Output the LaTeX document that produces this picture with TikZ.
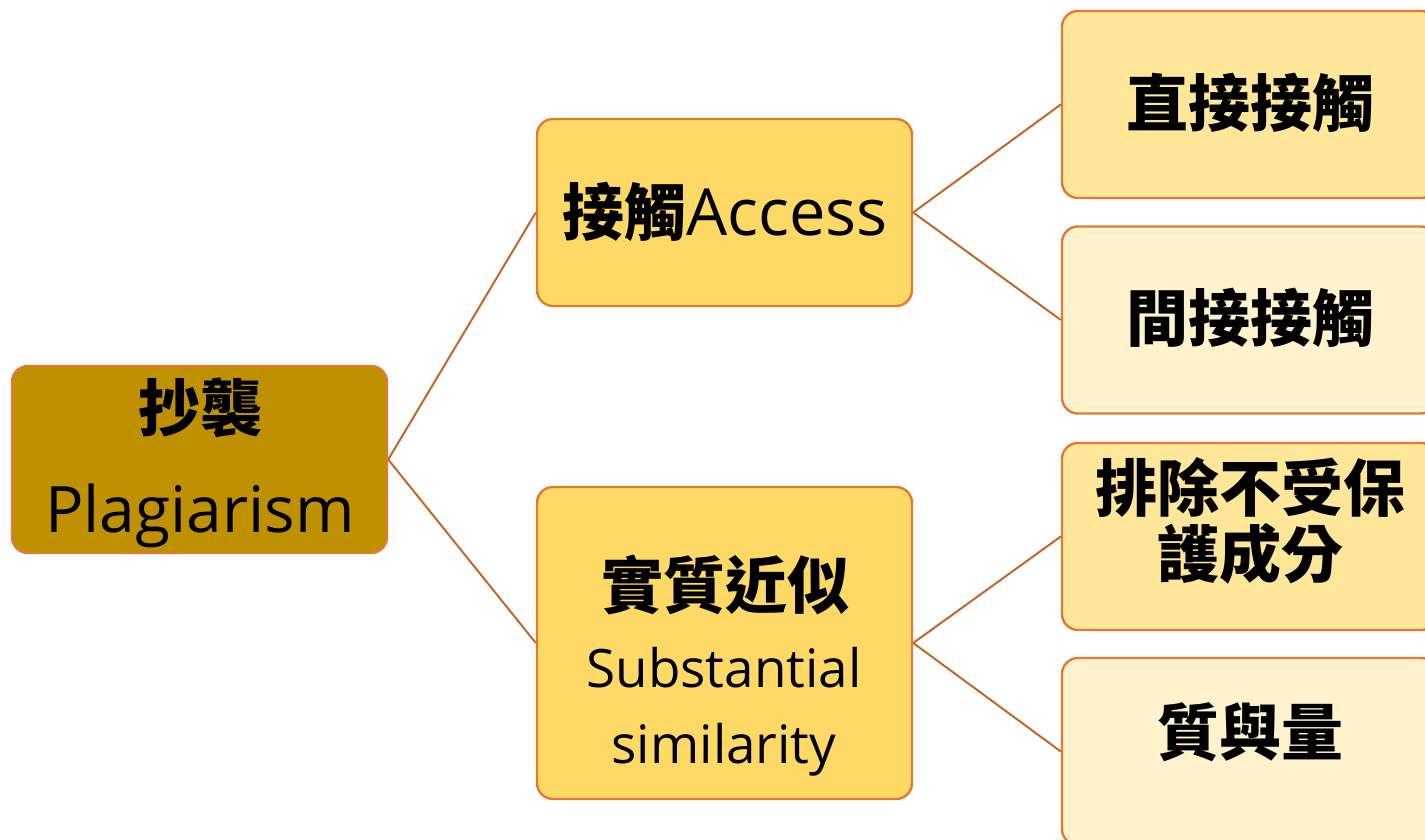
\documentclass[tikz,border=0pt]{standalone}
\usepackage{fontspec}
\setmainfont{Open Sans}
\newfontfamily\cjk{Noto Sans CJK TC}
\definecolor{rootfill}{HTML}{BF9000}
\definecolor{midfill}{HTML}{FFD966}
\definecolor{leafA}{HTML}{FFE699}
\definecolor{leafB}{HTML}{FFF2CC}
\definecolor{edgeo}{HTML}{E07B34}
\definecolor{linkc}{HTML}{C5652A}
\tikzset{
  boxnode/.style={draw=edgeo, line width=2.4pt, rounded corners=16pt, minimum width=375pt, minimum height=187pt, inner sep=0pt},
  link/.style={draw=linkc, line width=2pt},
  cjkt/.style={inner sep=0pt, font=\cjk\bfseries\fontsize{62}{66}\selectfont},
  lat/.style={inner sep=0pt, font=\fontsize{60}{64}\selectfont, anchor=base},
}
\begin{document}
\begin{tikzpicture}[x=1pt,y=-1pt]
\useasboundingbox (0,0) rectangle (1425,840);
\clip (0,0) rectangle (1425,840);
\node[boxnode, fill=rootfill] (root) at (199.5,459.5) {};
\node[boxnode, fill=midfill] (acc) at (724.5,212.5) {};
\node[boxnode, fill=midfill, minimum height=312pt] (sub) at (724.5,643) {};
\node[boxnode, fill=leafA] (l1) at (1249.5,104.5) {};
\node[boxnode, fill=leafB] (l2) at (1249.5,320) {};
\node[boxnode, fill=leafA] (l3) at (1249.5,536.5) {};
\node[boxnode, fill=leafB] (l4) at (1249.5,751.5) {};
\draw[link] (root.east) -- (acc.west);
\draw[link] (root.east) -- (sub.west);
\draw[link] (acc.east) -- (l1.west);
\draw[link] (acc.east) -- (l2.west);
\draw[link] (sub.east) -- (l3.west);
\draw[link] (sub.east) -- (l4.west);
\node[cjkt] (t1) at (200,408) {抄襲};
\node[lat, font=\fontsize{64}{68}\selectfont] (t2) at (200,532) {Plagiarism};
\node[inner sep=0pt, anchor=base, font=\fontsize{65}{68}\selectfont] (t3) at (725,235) {{\cjk\bfseries\fontsize{62}{66}\selectfont 接觸}Access};
\node[cjkt] (t4) at (725,585) {實質近似};
\node[lat, font=\fontsize{53}{58}\selectfont] (t5) at (724,687) {Substantial};
\node[lat, font=\fontsize{53}{58}\selectfont] (t6) at (724,763) {similarity};
\node[cjkt] (t7) at (1250,103) {直接接觸};
\node[cjkt] (t8) at (1250,318) {間接接觸};
\node[cjkt] (t9) at (1250,488) {排除不受保};
\node[cjkt] (t10) at (1250,554) {護成分};
\node[cjkt] (t11) at (1250,732) {質與量};
\end{tikzpicture}
\end{document}
